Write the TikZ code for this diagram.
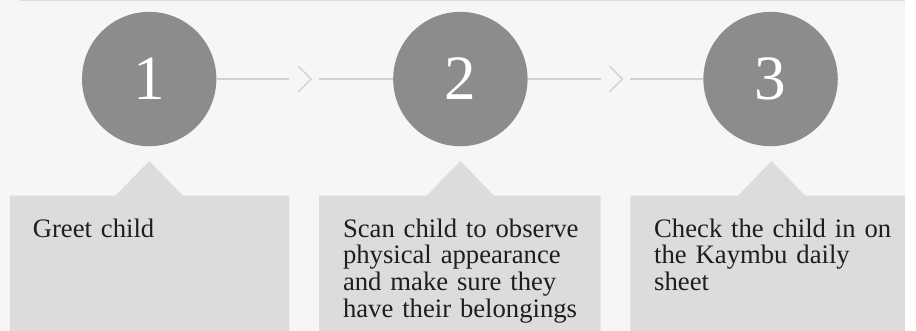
\documentclass[tikz,border=0pt]{standalone}
\usepackage{xcolor}
\usepackage{fontspec}
\setmainfont{Liberation Serif}
\usepackage{tikz}

\definecolor{bgpaper}{HTML}{F6F6F6}
\definecolor{stepgray}{HTML}{8C8C8C}
\definecolor{cardgray}{HTML}{DCDCDC}
\definecolor{linkgray}{HTML}{D2D2D2}
\definecolor{inkgray}{HTML}{1E1E1E}

\begin{document}
\begin{tikzpicture}[x=1pt, y=-1pt,
	stepnum/.style={circle, fill=stepgray, text=white, minimum size=136pt, inner sep=0pt, font=\fontsize{64}{64}\selectfont},
	cardtext/.style={anchor=north west, inner sep=0pt, align=left, text=inkgray, font=\fontsize{27}{27.2}\selectfont},
	link/.style={draw=linkgray, line width=1.4pt}]
					\fill[bgpaper] (0, 0) rectangle (916, 335);
					\draw[cardgray, line width=1pt] (20, 0.5) -- (916, 0.5);
					
					% cards with their pointers
					\fill[cardgray] (10, 335) -- (10, 198) -- (117, 198) -- (151, 163) -- (185, 198) -- (293, 198) -- (293, 335) -- cycle;
					\fill[cardgray] (323, 335) -- (323, 198) -- (432, 198) -- (466, 163) -- (500, 198) -- (608, 198) -- (608, 335) -- cycle;
					\fill[cardgray] (638, 335) -- (638, 198) -- (747, 198) -- (781, 163) -- (815, 198) -- (916, 198) -- (916, 335) -- cycle;
					
					\node[stepnum] (C1) at (151, 80) {1};
					\node[stepnum] (C2) at (466, 80) {2};
					\node[stepnum] (C3) at (780, 80) {3};
					
					\node[cardtext, text width=255pt] (T1) at (33, 221) {Greet child};
					\node[cardtext, text width=258pt] (T2) at (347, 221) {Scan child to observe\\physical appearance\\and make sure they\\have their belongings};
					\node[cardtext, text width=265pt] (T3) at (662, 221) {Check the child in on\\the Kaymbu daily\\sheet};
					
					% links with chevrons
					\coordinate (A1) at (293, 80);
					\coordinate (K1) at (315, 80);
					\coordinate (B1) at (323, 80);
					\coordinate (A2) at (608, 80);
					\coordinate (K2) at (630, 80);
					\coordinate (B2) at (638, 80);
					\draw[link] (C1) -- (A1);
					\draw[link] (K1) ++(-13, -13) -- (K1) -- ++(-13, 13);
					\draw[link] (B1) -- (C2);
					\draw[link] (C2) -- (A2);
					\draw[link] (K2) ++(-13, -13) -- (K2) -- ++(-13, 13);
					\draw[link] (B2) -- (C3);
				\end{tikzpicture}
\end{document}
